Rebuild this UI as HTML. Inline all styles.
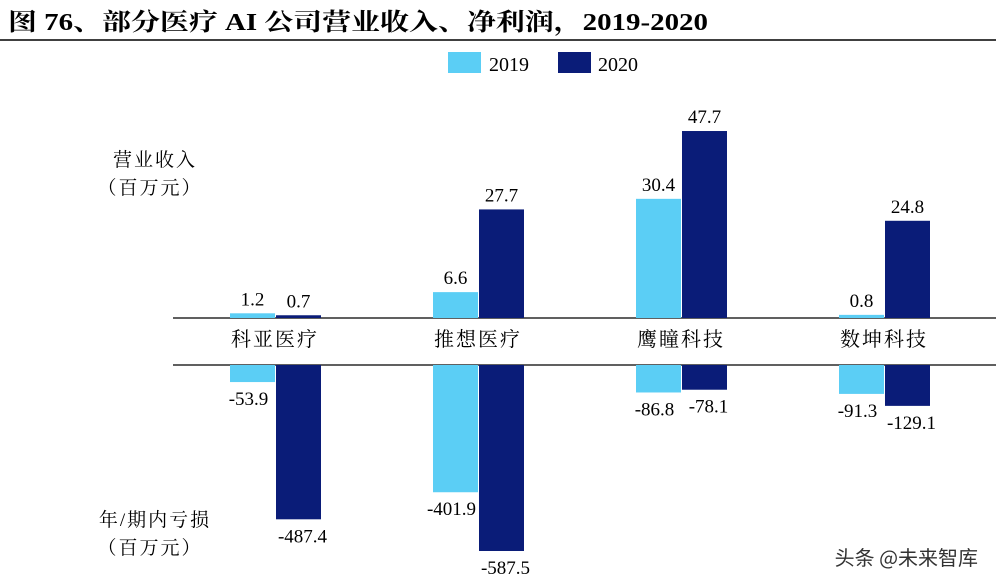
<!DOCTYPE html>
<html><head><meta charset="utf-8">
<style>
body{margin:0;background:#fff;}
svg{display:block;}
.t{font-family:"Liberation Serif","Noto Serif CJK SC",serif;}
</style></head>
<body>
<svg width="996" height="587" viewBox="0 0 996 587">
<text class="t" x="8" y="30" font-size="24" font-weight="bold" fill="#000" textLength="700" lengthAdjust="spacingAndGlyphs">图 76、部分医疗 AI 公司营业收入、净利润，2019-2020</text>
<line x1="0" y1="40" x2="996" y2="40" stroke="#000" stroke-width="1.5"/>
<g>
<rect x="448" y="52" width="33" height="21" fill="#5BCEF5"/>
<text class="t" x="489" y="71" font-size="20">2019</text>
<rect x="558" y="52" width="33" height="21" fill="#0A1C78"/>
<text class="t" x="598" y="71" font-size="20">2020</text>
</g>
<text class="t" x="155" y="166" font-size="19" text-anchor="middle" letter-spacing="2">营业收入</text>
<text class="t" x="150" y="194" font-size="19" text-anchor="middle" letter-spacing="2">（百万元）</text>
<text class="t" x="155" y="526" font-size="19" text-anchor="middle" letter-spacing="2">年/期内亏损</text>
<text class="t" x="150" y="554" font-size="19" text-anchor="middle" letter-spacing="2">（百万元）</text>
<line x1="173" y1="318" x2="996" y2="318" stroke="#000" stroke-width="1.2"/>
<line x1="173" y1="365" x2="996" y2="365" stroke="#000" stroke-width="1.2"/>
<g id="marks"></g>
<text x="978" y="565" font-family="'Noto Sans CJK SC',sans-serif" font-size="20" fill="#333" text-anchor="end">头条 @未来智库</text>
</svg>
<script>
const categories=["科亚医疗","推想医疗","鹰瞳科技","数坤科技"];
const revenue2019=[1.2,6.6,30.4,0.8];
const revenue2020=[0.7,27.7,47.7,24.8];
const loss2019=[-53.9,-401.9,-86.8,-91.3];
const loss2020=[-487.4,-587.5,-78.1,-129.1];
const NS="http://www.w3.org/2000/svg";
const g=document.getElementById("marks");
const topBase=318, botBase=365, topK=3.92, botK=0.3166;
const xGroup=i=>275+i*203;
const bw=45;
const ry=v=>topBase-v*topK;
const ly=v=>botBase-v*botK;
function el(tag,attrs){const e=document.createElementNS(NS,tag);for(const k in attrs)e.setAttribute(k,attrs[k]);g.appendChild(e);return e;}
function label(x,y,txt){const t=el("text",{x:x,y:y,"font-size":19,"text-anchor":"middle",class:"t"});t.textContent=txt;

return t;}
const colors=["#5BCEF5","#0A1C78"];
categories.forEach((c,i)=>{
  const cx=xGroup(i);
  const ct=el("text",{x:cx,y:346,"font-size":20,"text-anchor":"middle",class:"t","letter-spacing":"2"});ct.textContent=c;
  
  
  [revenue2019[i],revenue2020[i]].forEach((v,s)=>{
    const x=cx-bw+s*bw+(s?1:0);
    const y=ry(v);
    const r=el("rect",{x:x,y:y,width:bw,height:topBase-y,fill:colors[s]});
    
    
    label(x+bw/2,y-8,v.toFixed(1));
  });
  [loss2019[i],loss2020[i]].forEach((v,s)=>{
    const x=cx-bw+s*bw+(s?1:0);
    const y=ly(v);
    const r=el("rect",{x:x,y:botBase,width:bw,height:y-botBase,fill:colors[s]});
    
    
    label(x+bw/2+(s?4:-4),y+23,v.toFixed(1));
  });
});
</script>
</body></html>
